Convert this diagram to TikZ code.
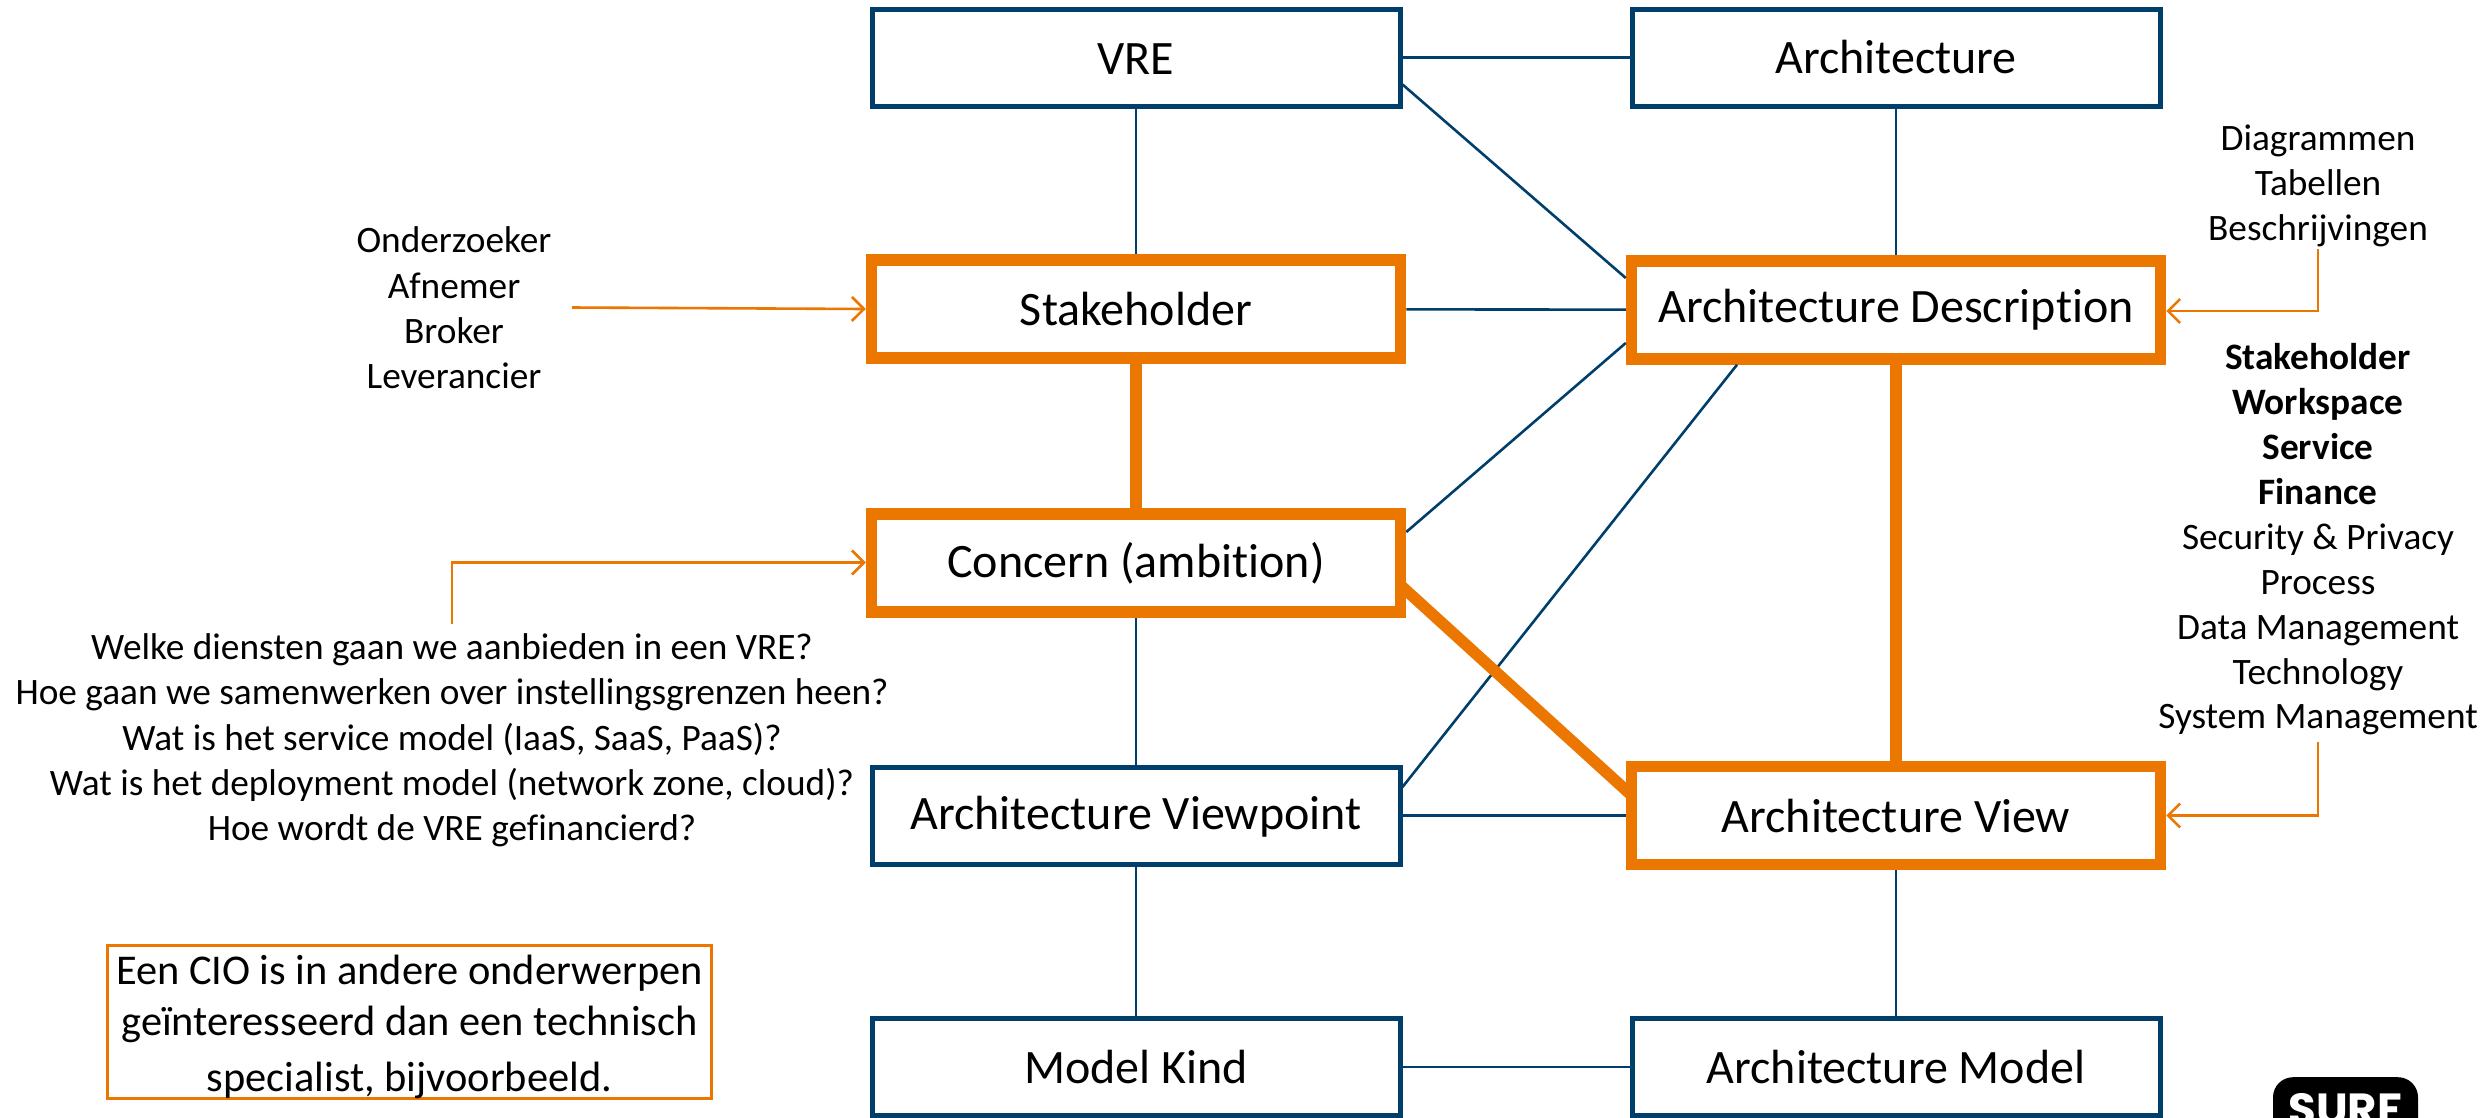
\documentclass[tikz,border=0pt]{standalone}
\usepackage{fontspec}
\setmainfont{Carlito}[Ligatures=NoCommon]
\newfontfamily\logofont{Poppins}
\usetikzlibrary{arrows.meta}
\definecolor{navy}{HTML}{003F6C}
\definecolor{orng}{HTML}{EC7700}
\tikzset{
  x=1pt,y=-1pt,
  box/.style={draw=navy,line width=5pt,fill=white,minimum width=528pt,minimum height=97pt,inner sep=0pt,font=\fontsize{48}{56}\selectfont},
  hot/.style={box,draw=orng,line width=11.5pt,minimum width=529pt,minimum height=98pt},
  thin/.style={draw=navy,line width=2.6pt},
  thick/.style={draw=orng,line width=11.5pt},
  pointer/.style={draw=orng,line width=2.6pt,-{Straight Barb[length=12pt,width=24pt,line width=2.6pt]}},
  txt/.style={align=center,inner sep=0pt,font=\fontsize{37.3}{45.3}\selectfont},
}
\begin{document}
\begin{tikzpicture}
\useasboundingbox (0,0) rectangle (2491,1117);
\fill[white] (0,0) rectangle (2491,1117);
\node[box,text height=34pt,text depth=0pt] (vre) at (1136,57.5) {VRE};
\node[box] (arch) at (1896,57.5) {Architecture};
\node[hot] (stake) at (1136,309) {Stakeholder};
\node[hot] (desc) at (1896,310) {Architecture Description};
\node[hot] (concern) at (1136,563) {Concern (ambition)};
\node[box,text height=34pt,text depth=7pt] (viewpoint) at (1136,815.5) {Architecture Viewpoint};
\node[hot] (view) at (1896,815.5) {Architecture View};
\node[box] (kind) at (1136,1067) {Model Kind};
\node[box] (model) at (1896,1067) {Architecture Model};

\draw[thin] (vre) -- (arch);
\draw[thin] (vre) -- (stake);
\draw[thin] (arch) -- (desc);
\draw[thin] (stake) -- (desc);
\draw[thin] (concern) -- (viewpoint);
\draw[thin] (viewpoint) -- (view);
\draw[thin] (viewpoint) -- (kind);
\draw[thin] (view) -- (model);
\draw[thin] (kind) -- (model);
\draw[thin] ([yshift=-27pt]vre.east) -- ([yshift=32pt]desc.west);
\draw[thin] ([yshift=31pt]concern.east) -- ([yshift=-33pt]desc.west);
\draw[thin] ([yshift=28.5pt]viewpoint.east) -- ([xshift=-159pt]desc.south);
\draw[thick] (stake) -- (concern);
\draw[thick] (desc) -- (view);
\draw[thick] ([xshift=-6pt,yshift=-22pt]concern.east) -- ([xshift=6pt,yshift=20pt]view.west);
% the box edges stay on top of the diagonal's ends
\draw[orng,line width=11.5pt] ([xshift=-5.75pt]concern.south east) -- ([xshift=-5.75pt]concern.north east);
\draw[orng,line width=11.5pt] ([xshift=5.75pt]view.south west) -- ([xshift=5.75pt]view.north west);

% text blocks
\node[txt] (who) at (454,308) {Onderzoeker\\Afnemer\\Broker\\Leverancier};
\node[txt] (forms) at (2318,186) {Diagrammen\\Tabellen\\Beschrijvingen};
\node[txt,font=\fontsize{37.3}{44.9}\selectfont] (views) at (2318,539.5) {\textbf{Stakeholder}\\\textbf{Workspace}\\\textbf{Service}\\\textbf{Finance}\\Security \& Privacy\\Process\\Data Management\\Technology\\System Management};
\node[txt] (questions) at (452,740.5) {Welke diensten gaan we aanbieden in een VRE?\\Hoe gaan we samenwerken over instellingsgrenzen heen?\\Wat is het service model (IaaS, SaaS, PaaS)?\\Wat is het deployment model (network zone, cloud)?\\Hoe wordt de VRE gefinancierd?};
\node[draw=orng,line width=2.4pt,inner sep=0pt,minimum width=604pt,minimum height=153pt] (notebox) at (409.5,1022) {};
\node[align=center,inner sep=0pt,font=\fontsize{42.4}{51}\selectfont] (note) at (409.5,1027) {Een CIO is in andere onderwerpen\\geïnteresseerd dan een technisch\\[5pt]specialist, bijvoorbeeld.};

% orange pointers
\coordinate (whoend) at (572,307.5);
\coordinate (qstart) at (452,624);
\coordinate (qbend) at (452,562.5);
\coordinate (fstart) at (2318,249);
\coordinate (fbend) at (2318,311);
\coordinate (vstart) at (2318,742);
\coordinate (vbend) at (2318,815.5);
\draw[pointer] (whoend) -- (stake.west);
\draw[pointer] (qstart) -- (qbend) -- (concern.west |- qbend);
\draw[pointer] (fstart) -- (fbend) -- (desc.east |- fbend);
\draw[pointer] (vstart) -- (vbend) -- (view.east |- vbend);

% logo, cut by the lower page edge
\node[fill=black,rounded corners=20pt,minimum width=145pt,minimum height=110pt,inner sep=0pt,anchor=north] (logo) at (2345.5,1077) {};
\node[text=white,inner sep=0pt,anchor=north,font=\logofont\bfseries\fontsize{45}{50}\selectfont] (logotext) at (2345,1093) {SURF};
\end{tikzpicture}
\end{document}
